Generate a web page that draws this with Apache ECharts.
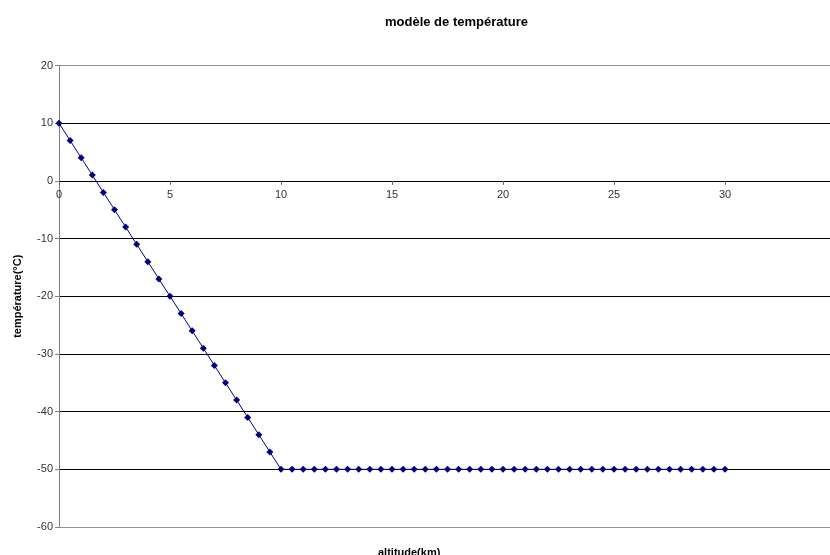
<!DOCTYPE html>
<html><head><meta charset="utf-8">
<script src="https://cdn.jsdelivr.net/npm/echarts@6/dist/echarts.min.js"></script>
<style>html,body{margin:0;padding:0;background:#fff}#c{width:830px;height:555px}</style>
</head><body><div id="c"></div>
<script>
var altitudes = [0,0.5,1,1.5,2,2.5,3,3.5,4,4.5,5,5.5,6,6.5,7,7.5,8,8.5,9,9.5,10,
  10.5,11,11.5,12,12.5,13,13.5,14,14.5,15,15.5,16,16.5,17,17.5,18,18.5,19,19.5,20,
  20.5,21,21.5,22,22.5,23,23.5,24,24.5,25,25.5,26,26.5,27,27.5,28,28.5,29,29.5,30];
var temperatures = [10,7,4,1,-2,-5,-8,-11,-14,-17,-20,-23,-26,-29,-32,-35,-38,-41,-44,-47,-50,
  -50,-50,-50,-50,-50,-50,-50,-50,-50,-50,-50,-50,-50,-50,-50,-50,-50,-50,-50,-50,
  -50,-50,-50,-50,-50,-50,-50,-50,-50,-50,-50,-50,-50,-50,-50,-50,-50,-50,-50,-50];
var titleText = 'modèle de température';
var xName = 'altitude(km)';
var yName = 'température(°C)';

var pts = altitudes.map(function(a,i){return [a, temperatures[i]];});
var chart = echarts.init(document.getElementById('c'), null, {renderer:'canvas'});
var F = '"Liberation Sans", Arial, sans-serif';
var gridTop = 65.5, gridH = 461.5;
var xOffset = -gridH * 60 / 80;
chart.setOption({
  animation:false,
  title:[
    {text:titleText, left:380, top:11, textStyle:{fontFamily:F,fontSize:13,fontWeight:'bold',color:'#000'}},
    {text:xName, left:373, top:542, textStyle:{fontFamily:F,fontSize:11,fontWeight:'bold',color:'#000'}}
  ],
  grid:{left:59, top:gridTop, width:777, height:gridH, containLabel:false, outerBoundsMode:'none'},
  xAxis:{type:'value', min:0, max:35, interval:5, position:'bottom', offset:xOffset,
    axisLine:{onZero:false, lineStyle:{color:'#000',width:1}},
    axisTick:{show:true, inside:false, length:4, lineStyle:{color:'#666'}},
    axisLabel:{fontFamily:F,fontSize:11,color:'#333',margin:9, showMaxLabel:true, hideOverlap:false},
    splitLine:{show:false}},
  yAxis:{type:'value', min:-60, max:20, interval:10,
    name:yName, nameLocation:'middle', nameGap:36, nameRotate:90,
    nameTextStyle:{fontFamily:F,fontSize:11,fontWeight:'bold',color:'#000'},
    axisLine:{show:true, lineStyle:{color:'#808080',width:1}},
    axisTick:{show:true, length:4, lineStyle:{color:'#808080'}},
    axisLabel:{fontFamily:F,fontSize:11,color:'#333',margin:6},
    splitLine:{show:true, lineStyle:{color:['#909090','#000','#000','#000','#000','#000','#000','#000','#909090'],width:1}}},
  series:[{type:'line', data:pts, symbol:'diamond', symbolSize:7,
    lineStyle:{color:'#000080',width:1},
    itemStyle:{color:'#000080'}}]
});
</script></body></html>
